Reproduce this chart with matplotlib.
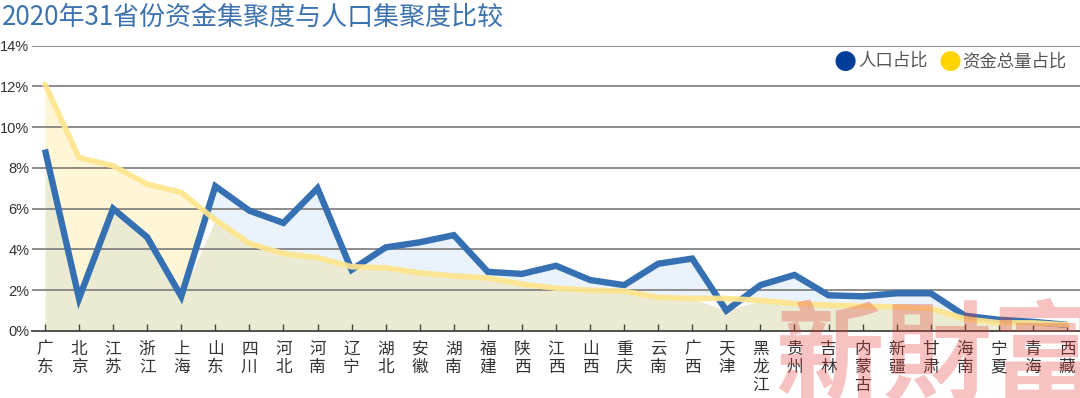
import matplotlib
matplotlib.use("Agg")
import matplotlib.pyplot as plt
import numpy as np

provinces = ["广东", "北京", "江苏", "浙江", "上海", "山东", "四川", "河北", "河南", "辽宁",
             "湖北", "安徽", "湖南", "福建", "陕西", "江西", "山西", "重庆", "云南", "广西",
             "天津", "黑龙江", "贵州", "吉林", "内蒙古", "新疆", "甘肃", "海南", "宁夏", "青海", "西藏"]
population = [8.9, 1.6, 6.0, 4.6, 1.7, 7.1, 5.9, 5.3, 7.0, 3.0,
              4.1, 4.35, 4.7, 2.9, 2.8, 3.2, 2.5, 2.25, 3.3, 3.55,
              1.0, 2.25, 2.75, 1.75, 1.7, 1.85, 1.85, 0.75, 0.55, 0.45, 0.3]
funds = [12.1, 8.5, 8.1, 7.2, 6.8, 5.45, 4.3, 3.8, 3.6, 3.15,
         3.1, 2.85, 2.7, 2.6, 2.3, 2.1, 2.0, 1.95, 1.65, 1.6,
         1.6, 1.5, 1.35, 1.27, 1.22, 1.18, 1.1, 0.6, 0.4, 0.4, 0.3]
yticks = [0, 2, 4, 6, 8, 10, 12, 14]
title = "2020年31省份资金集聚度与人口集聚度比较"
legend_labels = ["人口占比", "资金总量占比"]
watermark = "新財富"

plt.rcParams['font.family'] = ['Noto Sans CJK SC', 'DejaVu Sans']

W, H = 1080, 398
fig = plt.figure(figsize=(W / 100, H / 100), dpi=100)
ax = fig.add_axes([32 / W, (H - 331) / H, (W - 32) / W, (331 - 45.5) / H])

x = np.arange(len(provinces))
pop = np.array(population)
fnd = np.array(funds)
low = np.minimum(pop, fnd)

# fills
ax.fill_between(x, pop, fnd, where=fnd >= pop, color="#FFF6D8", lw=0, zorder=1, interpolate=True)
ax.fill_between(x, fnd, pop, where=pop >= fnd, color="#EAF3FB", lw=0, zorder=1, interpolate=True)
ax.fill_between(x, 0, low, color="#EBEBD3", lw=0, zorder=1.1, interpolate=True)

for yv in yticks[1:]:
    ax.axhline(yv, color="#7a7a7a", lw=1.2, zorder=2)

ax.plot(x, pop, color="#3570B3", lw=4.6, zorder=4, solid_joinstyle="miter", solid_capstyle="butt")
ax.plot(x, fnd, color="#FEE58C", lw=4.0, zorder=5, alpha=0.92, solid_joinstyle="round",
        solid_capstyle="round")

ax.set_xlim(-0.38, 30.38)
ax.set_ylim(0, 14)
ax.set_yticks(yticks)
ax.set_yticklabels([f"{v}%" for v in yticks], family=['Liberation Sans', 'DejaVu Sans'],
                   fontsize=10.5, color="#333333")
ax.tick_params(axis="y", length=0, pad=2)
ax.set_xticks(x)
ax.set_xticklabels(["\n".join(p) for p in provinces], fontsize=12, color="#333333",
                   linespacing=1.08)
ax.tick_params(axis="x", direction="in", length=5, width=1, color="#444444", pad=7)
for s in ["top", "right", "left"]:
    ax.spines[s].set_visible(False)
ax.spines["bottom"].set_color("#444444")
ax.spines["bottom"].set_linewidth(1.3)
ax.spines["bottom"].set_zorder(6)

fig.text(2 / W, 1 - 17 / H, title, fontsize=18.7, color="#3D72B0", va="center", ha="left")

# legend
fig.text(845 / W, 1 - 61 / H, "●", fontsize=19, color="#003D99", va="center", ha="center",
         family=['DejaVu Sans'])
fig.text(858 / W, 1 - 61 / H, legend_labels[0], fontsize=12.5, color="#555555", va="center", ha="left")
fig.text(950 / W, 1 - 61 / H, "●", fontsize=19, color="#FFD400", va="center", ha="center",
         family=['DejaVu Sans'])
fig.text(962 / W, 1 - 61 / H, legend_labels[1], fontsize=12.5, color="#555555", va="center", ha="left")

# watermark
fig.text(938 / W, 1 - 362 / H, watermark, fontsize=78, color="#E53935", alpha=0.30,
         va="center", ha="center", family=['Noto Sans CJK TC'], fontweight="bold", zorder=10)

fig.savefig("out.png", dpi=100)
